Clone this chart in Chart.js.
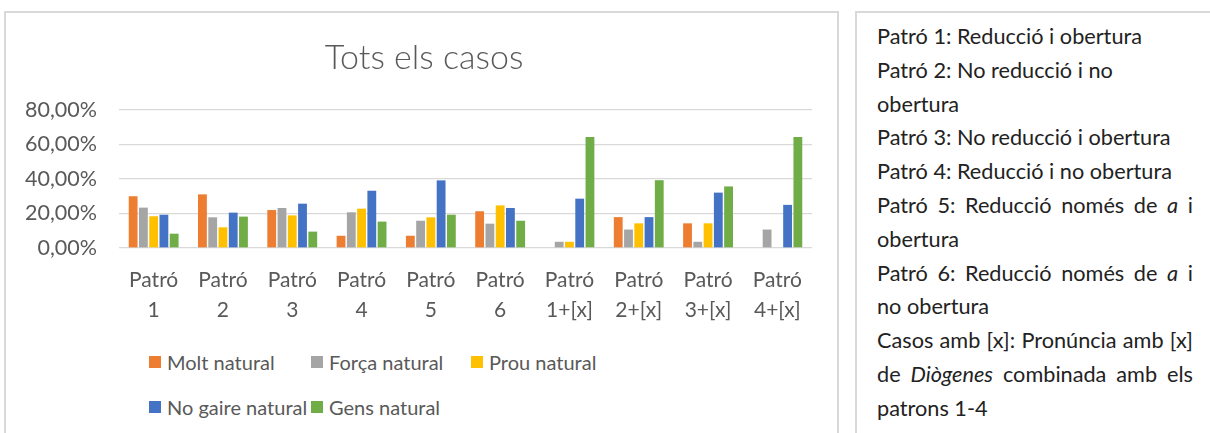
<!DOCTYPE html>
<html>
<head>
<meta charset="utf-8">
<script src="https://cdn.jsdelivr.net/npm/chart.js@4.4.1/dist/chart.umd.min.js"></script>
<style>
  html, body { margin: 0; padding: 0; background: #fff; }
  body { width: 1210px; height: 433px; position: relative; overflow: hidden; font-family: Lato, "Open Sans", sans-serif; }
  #box { position: absolute; left: 4px; top: 11px; width: 835px; height: 440px; border: 2px solid #d9d9d9; box-sizing: border-box; }
  #cv { position: absolute; left: 6px; top: 13px; }
  #title { position: absolute; left: 224px; width: 400px; top: 36px; height: 40px; line-height: 40px; text-align: center; font-size: 34px; font-weight: 300; color: #595959; white-space: nowrap; }
  #legend { position: absolute; left: 0; top: 0; }
  .lg { position: absolute; display: flex; align-items: center; font-size: 20px; color: #595959; white-space: nowrap; }
  .lg span.sw { display: inline-block; width: 12px; height: 12px; margin-right: 6px; }
  #notes { position: absolute; left: 855px; top: 11px; width: 360px; height: 440px; border: 2px solid #d9d9d9; box-sizing: border-box; }
  .ln { position: absolute; left: 20px; width: 316px; font-size: 21.7px; color: #222; white-space: nowrap; line-height: 24px; }
  .ln.j { display: flex; justify-content: space-between; }
</style>
</head>
<body>
<div id="box"></div>
<canvas id="cv" width="832" height="320"></canvas>
<div id="title"></div>
<div id="legend"></div>
<div id="notes"></div>
<script>
const categories = [["Patró","1"],["Patró","2"],["Patró","3"],["Patró","4"],["Patró","5"],["Patró","6"],["Patró","1+[x]"],["Patró","2+[x]"],["Patró","3+[x]"],["Patró","4+[x]"]];
const seriesNames = ["Molt natural","Força natural","Prou natural","No gaire natural","Gens natural"];
const seriesColors = ["#ED7D31","#A5A5A5","#FFC000","#4472C4","#70AD47"];
const moltNatural   = [30.0, 31.1, 22.0,  7.1,  7.1, 21.3,  0.0, 17.9, 14.3,  0.0];
const forcaNatural  = [23.4, 17.8, 23.2, 20.7, 15.8, 14.1,  3.6, 10.7,  3.6, 10.7];
const prouNatural   = [18.4, 12.0, 18.9, 22.8, 17.8, 24.7,  3.6, 14.3, 14.3,  0.0];
const noGaire       = [19.3, 20.5, 25.7, 33.2, 39.2, 23.2, 28.6, 17.9, 32.1, 25.0];
const gensNatural   = [ 8.3, 18.2,  9.5, 15.3, 19.3, 15.8, 64.3, 39.3, 35.7, 64.3];
const yTicks = [0, 20, 40, 60, 80];
const titleText = "Tots els casos";
const noteLines = [
  ["Patró 1: Reducció i obertura", false],
  ["Patró 2: No reducció i no", false],
  ["obertura", false],
  ["Patró 3: No reducció i obertura", false],
  ["Patró 4: Reducció i no obertura", false],
  ["Patró 5: Reducció només de <i>a</i> i", true],
  ["obertura", false],
  ["Patró 6: Reducció només de <i>a</i> i", true],
  ["no obertura", false],
  ["Casos amb [x]: Pronúncia amb [x]", true],
  ["de <i>Diògenes</i> combinada amb els", true],
  ["patrons 1-4", false]
];

const values = [moltNatural, forcaNatural, prouNatural, noGaire, gensNatural];
const datasets = seriesNames.map((n, i) => ({
  label: n,
  data: values[i],
  backgroundColor: seriesColors[i],
  categoryPercentage: 0.74,
  barPercentage: 0.86
}));

const FONT = "Lato";
const chart = new Chart(document.getElementById('cv'), {
  type: 'bar',
  data: { labels: categories, datasets },
  options: {
    responsive: false,
    animation: false,
    layout: { padding: { left: 0, right: 26, top: 97, bottom: 0 } },
    plugins: {
      legend: { display: false },
      tooltip: { enabled: false },
      title: { display: false }
    },
    scales: {
      x: {
        grid: { display: false, drawTicks: false },
        border: { display: false },
        ticks: { color: '#595959', font: { family: FONT, size: 21, lineHeight: 1.4 }, padding: 18, maxRotation: 0, autoSkip: false },
        afterFit: s => { s.height = 85; }
      },
      y: {
        min: 0, max: 80,
        afterBuildTicks: s => { s.ticks = yTicks.map(v => ({ value: v })); },
        grid: { color: '#d9d9d9', lineWidth: 1.3, drawTicks: false },
        border: { display: false },
        ticks: { color: '#595959', font: { family: FONT, size: 21.5 }, padding: 22,
          callback: v => v.toFixed(2).replace('.', ',') + '%' },
        afterFit: s => { s.width = 113; }
      }
    }
  }
});

document.getElementById('title').textContent = titleText;

// legend (grid layout as in reference), built from chart datasets
const legendPos = [[149, 362], [311, 362], [471, 362], [149, 407], [311, 407]];
const lg = document.getElementById('legend');
chart.data.datasets.forEach((d, i) => {
  const el = document.createElement('div');
  el.className = 'lg';
  el.style.left = legendPos[i][0] + 'px';
  el.style.top = (legendPos[i][1] - 12) + 'px';
  el.style.height = '24px';
  el.innerHTML = '<span class="sw" style="background:' + d.backgroundColor + '"></span>' + d.label;
  lg.appendChild(el);
});

// notes panel
const notes = document.getElementById('notes');
noteLines.forEach((l, i) => {
  const el = document.createElement('div');
  el.className = 'ln' + (l[1] ? ' j' : '');
  el.style.top = (37 - 11 - 15 + i * 33.8) + 'px';
  if (l[1]) {
    el.innerHTML = l[0].split(' ').map(w => '<span>' + w + '</span>').join('');
  } else {
    el.innerHTML = l[0];
  }
  notes.appendChild(el);
});
</script>
</body>
</html>
